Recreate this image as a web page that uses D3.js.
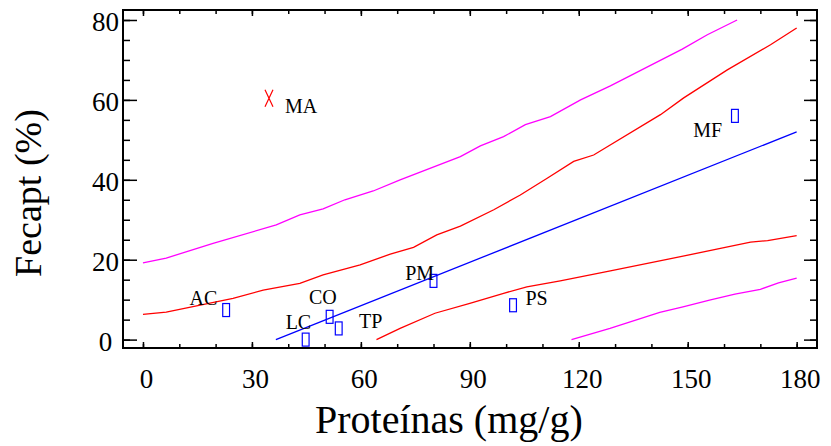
<!DOCTYPE html>
<html><head><meta charset="utf-8">
<script src="https://cdn.jsdelivr.net/npm/d3@7"></script>
<style>
body{margin:0;background:#fff}
svg{display:block}
text{font-family:"Liberation Serif","Times New Roman",serif;fill:#000}
</style>
</head><body>
<svg id="c" width="831" height="446"></svg>
<script>
// ---- data ----
const pointNames   = ["AC", "LC", "CO", "TP", "PM", "PS", "MF"];
const pointProtein = [22.9, 44.8, 51.4, 53.9, 80.0, 101.9, 163.0];
const pointFecapt  = [7.4, 0.0, 5.7, 2.8, 14.7, 8.6, 56.0];

const outlierName    = ["MA"];
const outlierProtein = [34.7];
const outlierFecapt  = [60.4];

const fitX = [36.6, 180];
const fitY = [0, 52];

const confUpperX = [0, 6.4, 24.8, 33.1, 43.2, 49.6, 59.8, 68.1, 74.5, 80.9, 87.4, 96.6, 103.9, 111.3, 118.6, 124.1, 142.5, 148.9, 160.9, 172.8, 180];
const confUpperY = [6.3, 6.9, 10.3, 12.4, 14.1, 16.2, 18.7, 21.4, 23.1, 26.2, 28.4, 32.5, 36.2, 40.4, 44.6, 46.2, 56.3, 60.5, 67.5, 73.8, 78.0];

const confLowerX = [64.3, 70.8, 80.4, 90, 99.3, 105.7, 114.9, 128.7, 145, 160, 167.3, 172, 180];
const confLowerY = [0, 2.8, 6.6, 9.1, 11.6, 13.2, 14.7, 17.2, 20.2, 23.0, 24.4, 24.8, 26.0];

const predUpperX = [0, 6.4, 19.3, 36.7, 43.2, 49.6, 55.6, 63.4, 70.8, 87.4, 92.9, 99.3, 105.3, 112.2, 120.5, 128.7, 148.5, 155.4, 163.6];
const predUpperY = [19.2, 20.4, 24.1, 28.7, 31.2, 32.7, 35.0, 37.2, 40.0, 45.8, 48.5, 50.8, 53.8, 55.8, 60.0, 63.5, 72.7, 76.3, 80.0];

const predLowerX = [118, 128.6, 142.3, 148.7, 156, 163, 170, 175, 180];
const predLowerY = [0, 2.8, 6.8, 8.2, 9.9, 11.4, 12.6, 14.2, 15.4];

const xMajorTicks = [0, 30, 60, 90, 120, 150, 180];
const yMajorTicks = [0, 20, 40, 60, 80];

const xTitle = "Proteínas (mg/g)";
const yTitle = "Fecapt (%)";

// ---- layout (not data) ----
const labelOffsets = {
  AC: [-36.6, -5], LC: [-20, -11], CO: [-20.7, -12.7], TP: [20.3, 0],
  PM: [-28.3, -1], PS: [12.4, -0.3], MF: [-41.7, 20.7], MA: [16, 15]
};

const L = 123, R = 817, T = 10, B = 348;
const svg = d3.select("#c");
const x = d3.scaleLinear().domain([-5.5, 185.6]).range([L, R]);
const y = d3.scaleLinear().domain([-2.1, 82.5]).range([B, T]);

const zip = (xs, ys) => xs.map((v, i) => [v, ys[i]]);
const line = d3.line().x(d => x(d[0])).y(d => y(d[1]));

function drawLine(xs, ys, color) {
  svg.append("path").datum(zip(xs, ys))
    .attr("d", line).attr("fill", "none")
    .attr("stroke", color).attr("stroke-width", 1.3);
}
drawLine(predUpperX, predUpperY, "#ff00ff");
drawLine(predLowerX, predLowerY, "#ff00ff");
drawLine(confUpperX, confUpperY, "#ff0000");
drawLine(confLowerX, confLowerY, "#ff0000");
drawLine(fitX, fitY, "#0000ff");

// ---- axes ----
const xMinor = d3.range(0, 181, 10);
const yMinor = d3.range(0, 81, 5);

function axisG(axis, tx, ty) {
  const g = svg.append("g").attr("transform", `translate(${tx},${ty})`).call(axis);
  g.select(".domain").remove();
  g.selectAll("line").attr("stroke", "#000").attr("stroke-width", 1.5);
  return g;
}
// bottom
axisG(d3.axisBottom(x).tickValues(xMinor).tickSize(-4).tickFormat(""), 0, B);
const bx = axisG(d3.axisBottom(x).tickValues(xMajorTicks).tickSize(-6).tickFormat(d3.format("d")), 0, B);
bx.selectAll("text").attr("y", 40).attr("dy", 0).attr("dx", 3)
  .attr("font-size", 27).attr("font-family", null).attr("fill", "#000");
// top
axisG(d3.axisTop(x).tickValues(xMinor).tickSize(-4).tickFormat(""), 0, T);
axisG(d3.axisTop(x).tickValues(xMajorTicks).tickSize(-6).tickFormat(""), 0, T);
// left
axisG(d3.axisLeft(y).tickValues(yMinor).tickSize(-7).tickFormat(""), L, 0);
const ly = axisG(d3.axisLeft(y).tickValues(yMajorTicks).tickSize(-14).tickFormat(d3.format("d")), L, 0);
ly.selectAll("text").attr("x", -17.5).attr("dy", "0.4em").attr("text-anchor", "middle")
  .attr("font-size", 27).attr("font-family", null).attr("fill", "#000");
// right
axisG(d3.axisRight(y).tickValues(yMinor).tickSize(-7).tickFormat(""), R, 0);
axisG(d3.axisRight(y).tickValues(yMajorTicks).tickSize(-13).tickFormat(""), R, 0);

svg.append("rect").attr("x", L).attr("y", T).attr("width", R - L).attr("height", B - T)
  .attr("fill", "none").attr("stroke", "#000").attr("stroke-width", 2);

// ---- points ----
const pts = pointNames.map((n, i) => ({n, px: x(pointProtein[i]), py: y(pointFecapt[i])}));
svg.selectAll("rect.pt").data(pts).enter().append("rect").attr("class", "pt")
  .attr("x", d => d.px - 3.4).attr("y", d => d.py - 6.5)
  .attr("width", 6.8).attr("height", 13)
  .attr("fill", "none").attr("stroke", "#0000ff").attr("stroke-width", 1.2);
svg.selectAll("text.pl").data(pts).enter().append("text").attr("class", "pl")
  .attr("x", d => d.px + labelOffsets[d.n][0]).attr("y", d => d.py + labelOffsets[d.n][1])
  .attr("font-size", 20).text(d => d.n);

const outs = outlierName.map((n, i) => ({n, px: x(outlierProtein[i]), py: y(outlierFecapt[i])}));
outs.forEach(d => {
  svg.append("path")
    .attr("d", `M${d.px - 4},${d.py - 8.5}L${d.px + 4},${d.py + 8.5}M${d.px + 4},${d.py - 8.5}L${d.px - 4},${d.py + 8.5}`)
    .attr("stroke", "#ff0000").attr("stroke-width", 1.2).attr("fill", "none");
  svg.append("text").attr("x", d.px + labelOffsets[d.n][0]).attr("y", d.py + labelOffsets[d.n][1])
    .attr("font-size", 20).text(d.n);
});

// ---- titles ----
svg.append("text").attr("x", 315).attr("y", 433).attr("font-size", 40).text(xTitle);
svg.append("text").attr("transform", "translate(41,193) rotate(-90)")
  .attr("text-anchor", "middle").attr("font-size", 38).text(yTitle);
</script>
</body></html>
